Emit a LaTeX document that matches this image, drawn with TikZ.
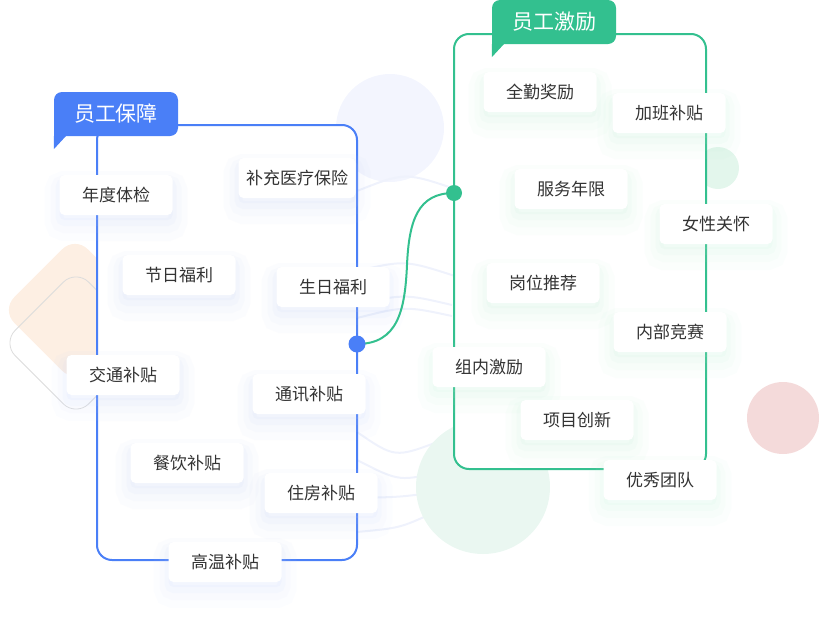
\documentclass[tikz,border=0pt]{standalone}
\usepackage{fontspec}
\newfontfamily\cjk{Noto Sans CJK SC}
\definecolor{bluec}{HTML}{4A7FF7}
\definecolor{greenc}{HTML}{33C08F}
\definecolor{txt}{HTML}{333333}
\definecolor{bshade}{HTML}{C2D0FA}
\definecolor{gshade}{HTML}{B8EED4}
\definecolor{lav}{HTML}{F3F5FE}
\definecolor{mint}{HTML}{EAF7F1}
\definecolor{mint2}{HTML}{E3F6EC}
\definecolor{pinkc}{HTML}{F4DADA}
\definecolor{peach}{HTML}{FDEFE3}
\definecolor{ripple}{HTML}{EFF2FC}
\definecolor{outl}{HTML}{DCDCDC}
\tikzset{
  card/.style={rounded corners=5pt, fill=white, minimum width=113pt, minimum height=40pt,
    inner sep=0pt, font=\cjk\fontsize{17}{20}\selectfont, text=txt},
  shadowof/.style={
    preaction={draw=#1, line width=30pt, opacity=0.05, transform canvas={yshift=-11pt}},
    preaction={draw=#1, line width=18pt, opacity=0.06, transform canvas={yshift=-9pt}},
    preaction={draw=#1, line width=8pt, opacity=0.08, transform canvas={yshift=-7pt}},
    preaction={fill=#1, opacity=0.10, transform canvas={yshift=-5pt}}},
  bcard/.style={card, shadowof=bshade},
  gcard/.style={card, shadowof=gshade},
  tag/.style={rounded corners=8pt, minimum width=124pt, minimum height=44pt, inner sep=0pt,
    text=white, font=\cjk\fontsize{21}{24}\selectfont},
  panel/.style={line width=2pt, fill=white, rounded corners=15pt},
  dotnode/.style={circle, inner sep=0pt, minimum size=17pt},
  rip/.style={draw=ripple, line width=2pt}
}
\begin{document}
\begin{tikzpicture}[x=1pt, y=-1pt]
\useasboundingbox (0,0) rectangle (820,635);
% decorations
\fill[peach, rounded corners=18pt, rotate around={45:(75,310)}] (23,258) rectangle (127,362);
\draw[outl, line width=0.8pt, rounded corners=18pt, rotate around={45:(76,343)}] (24,291) rectangle (128,395);
\fill[lav] (390,128) circle (54);
\draw[rip] (357,191) .. controls (405,172) .. (458,190);
\draw[rip] (357,271) .. controls (405,260) .. (455,276);
\draw[rip] (357,304) .. controls (405,294) .. (452,305);
\draw[rip] (357,318) .. controls (405,306) .. (452,316);
\draw[rip] (357,432) .. controls (395,458) .. (440,441);
\draw[rip] (357,460) .. controls (400,482) .. (445,470);
\draw[rip] (357,498) .. controls (400,497) .. (430,493);
\draw[rip] (357,532) .. controls (400,528) .. (435,512);
\fill[mint] (483,487) circle (67);
\fill[mint2] (718,168) circle (21);
\fill[pinkc] (783,418) circle (36);
% panels
\draw[panel, draw=bluec] (97,125) rectangle (357,560);
\draw[panel, draw=greenc] (454,34) rectangle (706,469);
% tags
\node[tag, fill=bluec] (t1) at (116,114) {员工保障};
\fill[bluec] (t1.south west) rectangle ++(12,-12);
\fill[bluec] (t1.south west) -- ++(0,13) -- ++(12,-13) -- cycle;
\node[tag, fill=greenc] (t2) at (554,22) {员工激励};
\fill[greenc] (t2.south west) rectangle ++(12,-12);
\fill[greenc] (t2.south west) -- ++(0,13) -- ++(12,-13) -- cycle;
% blue cards
\node[bcard] (b1) at (116,195) {年度体检};
\node[bcard, minimum width=117pt] (b2) at (297,178) {补充医疗保险};
\node[bcard] (b3) at (179,275) {节日福利};
\node[bcard] (b4) at (333,287) {生日福利};
\node[bcard] (b5) at (123,375) {交通补贴};
\node[bcard] (b6) at (309,394) {通讯补贴};
\node[bcard] (b7) at (187,463) {餐饮补贴};
\node[bcard] (b8) at (321,493) {住房补贴};
\node[bcard] (b9) at (225,562) {高温补贴};
% green cards
\node[gcard] (g1) at (540,92) {全勤奖励};
\node[gcard] (g2) at (669,113) {加班补贴};
\node[gcard] (g3) at (571,189) {服务年限};
\node[gcard] (g4) at (716,224) {女性关怀};
\node[gcard] (g5) at (543,283) {岗位推荐};
\node[gcard] (g6) at (670,332) {内部竞赛};
\node[gcard] (g7) at (489,367) {组内激励};
\node[gcard] (g8) at (577,420) {项目创新};
\node[gcard] (g9) at (660,480) {优秀团队};
% connector
\coordinate (bdc) at (357,344);
\coordinate (gdc) at (454,193);
\draw[greenc, line width=2pt] (bdc) .. controls (398,344) and (405,310) .. (407,265)
  .. controls (409,220) and (418,193) .. (gdc);
\node[dotnode, fill=bluec] (bd) at (bdc) {};
\node[dotnode, fill=greenc, minimum size=16pt] (gd) at (gdc) {};
\end{tikzpicture}
\end{document}
